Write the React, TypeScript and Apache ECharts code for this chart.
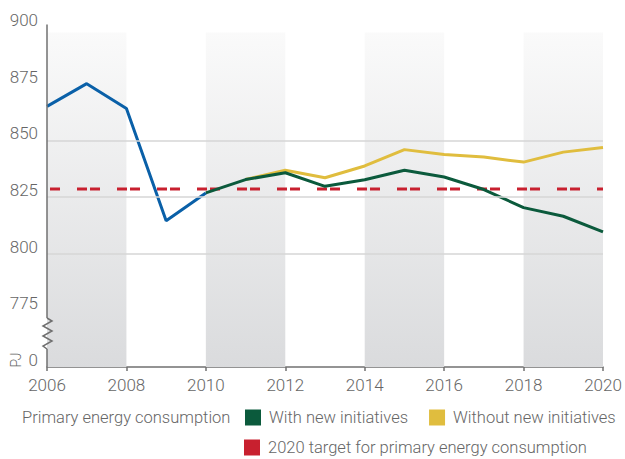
import React, { useEffect, useRef } from "react";
import * as echarts from "echarts";

// ---- data ----
const actualYears = [2006, 2007, 2008, 2009, 2010];
const actualValues = [865, 875, 864, 814.5, 826.8];

const withYears = [2010, 2011, 2012, 2013, 2014, 2015, 2016, 2017, 2018, 2019, 2020];
const withValues = [826.8, 832.7, 835.7, 829.7, 832.6, 836.8, 833.8, 828.3, 820.3, 816.5, 809.6];

const withoutYears = [2011, 2012, 2013, 2014, 2015, 2016, 2017, 2018, 2019, 2020];
const withoutValues = [832.7, 836.8, 833.5, 838.7, 845.9, 843.8, 842.6, 840.4, 844.8, 846.8];

const targetYears = [2006, 2020];
const targetValue = 828.5;

const gridLineValues = [800, 825, 850];
const shadedBands = [
  [2006, 2008],
  [2010, 2012],
  [2014, 2016],
  [2018, 2020],
];
const bandTop = 897.6;

const seriesNames = {
  actual: "Actual",
  withNew: "With new initiatives",
  withoutNew: "Without new initiatives",
  target: "2020 target for primary energy consumption",
};
const legendTitle = "Primary energy consumption";
const unitLabel = "PJ";
const breakLabel = "0";

const xMin = 2006;
const xMax = 2020;
const yMin = 750;
const yMax = 900;

const FONT = "Roboto, 'Liberation Sans', Arial, sans-serif";
const WEIGHT = 300;
const TEXT = "#666666";
const AXIS = "#707070";

const pairs = (xs: number[], ys: number[]) => xs.map((x, i) => [x, ys[i]]);

export default function App() {
  const ref = useRef<HTMLDivElement>(null);

  useEffect(() => {
    if (!ref.current) return;
    const chart = echarts.init(ref.current, undefined, { renderer: "svg" });

    const bandGradient = new echarts.graphic.LinearGradient(0, 0, 0, 1, [
      { offset: 0, color: "#fafafa" },
      { offset: 1, color: "#dadbdd" },
    ]);

    const legendBase = {
      icon: "rect",
      itemWidth: 16,
      itemHeight: 16,
      itemGap: 21,
      padding: 0,
      width: 380,
      selectedMode: false,
      orient: "horizontal",
      itemStyle: { borderWidth: 0 },
      textStyle: {
        fontFamily: FONT,
        fontWeight: WEIGHT,
        fontSize: 16.5,
        color: TEXT,
        padding: [0, 0, 0, 3],
      },
    };

    const option: any = {
      animation: false,
      backgroundColor: "#ffffff",
      title: {
        text: legendTitle,
        left: 22,
        top: 407,
        padding: 0,
        textStyle: {
          fontFamily: FONT,
          fontSize: 16.5,
          fontWeight: WEIGHT,
          color: TEXT,
          lineHeight: 20,
        },
      },
      legend: [
        {
          ...legendBase,
          data: [seriesNames.withNew, seriesNames.withoutNew],
          left: 245,
          top: 409,
        },
        {
          ...legendBase,
          data: [seriesNames.target],
          left: 244,
          top: 439,
        },
      ],
      grid: { left: 47, right: 22, top: 27, bottom: 92 },
      xAxis: {
        type: "value",
        min: xMin,
        max: xMax,
        interval: 2,
        axisLine: { show: true, lineStyle: { color: AXIS, width: 1.5 } },
        axisTick: { show: true, length: 4, lineStyle: { color: AXIS, width: 1.5 } },
        splitLine: { show: false },
        axisLabel: {
          formatter: (v: number) => String(v),
          fontFamily: FONT,
          fontWeight: WEIGHT,
          fontSize: 17,
          lineHeight: 17,
          color: TEXT,
          margin: 9,
        },
      },
      yAxis: {
        type: "value",
        min: yMin,
        max: yMax,
        interval: 25,
        axisLine: { show: false },
        axisTick: { show: false },
        splitLine: { show: false },
        axisLabel: {
          formatter: (v: number) => (v === yMin ? breakLabel : String(v)),
          fontFamily: FONT,
          fontWeight: WEIGHT,
          fontSize: 17,
          lineHeight: 14,
          verticalAlign: "bottom",
          color: TEXT,
          margin: 9,
        },
      },
      series: [
        {
          name: "bands",
          type: "line",
          data: [],
          z: 1,
          silent: true,
          markArea: {
            silent: true,
            itemStyle: { color: bandGradient },
            data: shadedBands.map(([a, b]) => [
              { xAxis: a, yAxis: yMin },
              { xAxis: b, yAxis: bandTop },
            ]),
          },
          markLine: {
            silent: true,
            symbol: "none",
            label: { show: false },
            lineStyle: { color: "#d6d6d6", width: 1.5, type: "solid" },
            data: gridLineValues.map((v) => ({ yAxis: v })),
          },
        },
        {
          name: seriesNames.target,
          type: "line",
          z: 2,
          data: pairs(targetYears, targetYears.map(() => targetValue)),
          showSymbol: false,
          color: "#c8202f",
          itemStyle: { color: "#c8202f" },
          lineStyle: { color: "#c8202f", width: 3, type: [10, 3, 10, 17], dashOffset: 10 },
        },
        {
          name: seriesNames.actual,
          type: "line",
          z: 3,
          data: pairs(actualYears, actualValues),
          showSymbol: false,
          color: "#0a60a8",
          lineStyle: { color: "#0a60a8", width: 3 },
        },
        {
          name: seriesNames.withoutNew,
          type: "line",
          z: 3,
          data: pairs(withoutYears, withoutValues),
          showSymbol: false,
          color: "#e0bd3e",
          itemStyle: { color: "#e0bd3e" },
          lineStyle: { color: "#e0bd3e", width: 3 },
        },
        {
          name: seriesNames.withNew,
          type: "line",
          z: 4,
          data: pairs(withYears, withValues),
          showSymbol: false,
          color: "#0b5a3c",
          itemStyle: { color: "#0b5a3c" },
          lineStyle: { color: "#0b5a3c", width: 3 },
        },
      ],
    };

    chart.setOption(option);

    // y-axis line with a break (zigzag) between 0 and 775
    const top = chart.convertToPixel({ gridIndex: 0 }, [xMin, yMax]) as number[];
    const bottom = chart.convertToPixel({ gridIndex: 0 }, [xMin, yMin]) as number[];
    const x0 = bottom[0];
    const y0 = bottom[1];
    const zig = [
      [0, -49],
      [5, -46],
      [-4, -41],
      [5, -36],
      [-4, -31],
      [5, -26],
      [-4, -21],
      [0, -18],
    ].map(([dx, dy]) => [x0 + dx, y0 + dy]);

    const axisStyle = { stroke: AXIS, lineWidth: 1.5, fill: null };
    chart.setOption({
      graphic: [
        {
          type: "line",
          z: 10,
          shape: { x1: x0, y1: top[1] - 2.5, x2: x0, y2: y0 - 49 },
          style: axisStyle,
        },
        {
          type: "polyline",
          z: 10,
          shape: { points: zig },
          style: axisStyle,
        },
        {
          type: "line",
          z: 10,
          shape: { x1: x0, y1: y0 - 18, x2: x0, y2: y0 },
          style: axisStyle,
        },
        {
          type: "text",
          x: 15.5,
          y: y0 - 7,
          rotation: Math.PI / 2,
          style: {
            text: unitLabel,
            fontFamily: FONT,
            fontWeight: WEIGHT,
            fontSize: 14,
            fill: TEXT,
            align: "center",
            verticalAlign: "middle",
          },
        },
      ],
    });

    return () => chart.dispose();
  }, []);

  return (
    <div
      ref={ref}
      style={{ position: "fixed", left: 0, top: 0, width: 625, height: 459 }}
    />
  );
}
